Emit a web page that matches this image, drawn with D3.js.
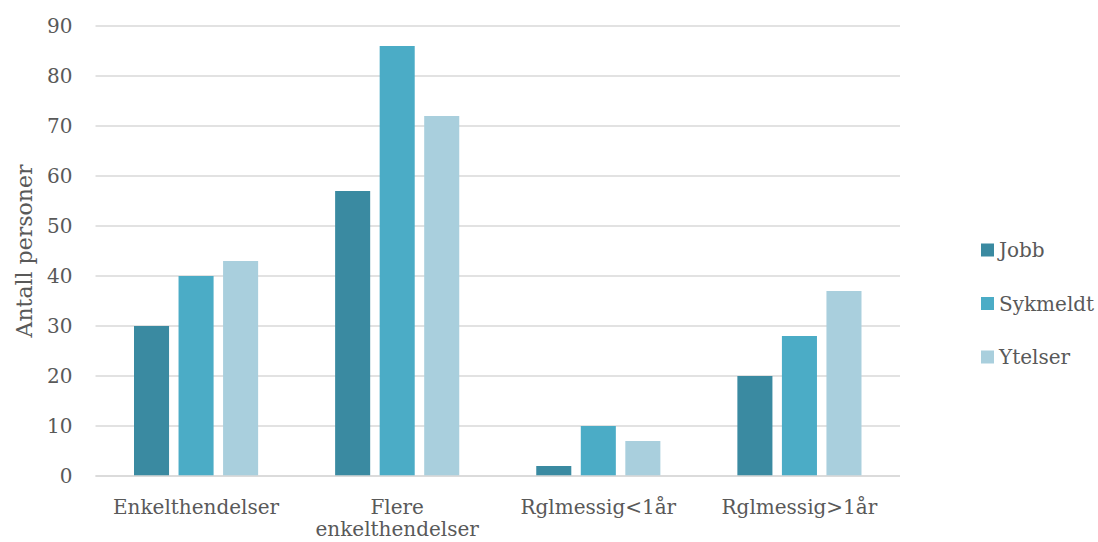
<!DOCTYPE html>
<html>
<head>
<meta charset="utf-8">
<script src="https://cdn.jsdelivr.net/npm/d3@7"></script>
<style>
  html, body { margin: 0; padding: 0; background: #fff; }
  svg text { font-family: "DejaVu Serif", serif; fill: #595959; }
</style>
</head>
<body>
<svg id="chart" width="1098" height="542"></svg>
<script>
const categories = ["Enkelthendelser", "Flere enkelthendelser", "Rglmessig<1år", "Rglmessig>1år"];
const categoryLines = [["Enkelthendelser"], ["Flere", "enkelthendelser"], ["Rglmessig<1år"], ["Rglmessig>1år"]];
const seriesNames = ["Jobb", "Sykmeldt", "Ytelser"];
const jobb = [30, 57, 2, 20];
const sykmeldt = [40, 86, 10, 28];
const ytelser = [43, 72, 7, 37];
const yTicks = [0, 10, 20, 30, 40, 50, 60, 70, 80, 90];
const colors = ["#3A8AA1", "#4BACC6", "#A9CFDD"];

const seriesValues = [jobb, sykmeldt, ytelser];

const svg = d3.select("#chart");
const plotLeft = 95.5, plotRight = 900, plotTop = 26, plotBottom = 476;
const fontSize = 20;

const x0 = d3.scaleBand().domain(categories).range([plotLeft, plotRight]).padding(0);
const x1 = d3.scaleBand().domain(seriesNames)
  .range([38.5, x0.bandwidth() - 38.5])
  .paddingInner(0.213).paddingOuter(0);
const y = d3.scaleLinear().domain([0, 90]).range([plotBottom, plotTop]);

// Horizontal gridlines
svg.append("g").selectAll("line").data(yTicks).join("line")
  .attr("x1", plotLeft).attr("x2", plotRight)
  .attr("y1", d => y(d)).attr("y2", d => y(d))
  .attr("stroke", "#D9D9D9").attr("stroke-width", 1.5);

// Y tick labels
const yAxis = d3.axisLeft(y).tickValues(yTicks).tickSize(0).tickPadding(0);
const yg = svg.append("g").attr("transform", `translate(${plotLeft - 23},0)`).call(yAxis);
yg.select(".domain").remove();
yg.selectAll("text").attr("font-size", fontSize).attr("font-family", "DejaVu Serif").attr("fill", "#595959");

// Y axis title
svg.append("text")
  .attr("transform", `translate(32,${(plotTop + plotBottom) / 2}) rotate(-90)`)
  .attr("text-anchor", "middle")
  .attr("font-size", 22)
  .text("Antall personer");

// Bars
const groups = svg.append("g").selectAll("g").data(categories).join("g")
  .attr("transform", d => `translate(${x0(d)},0)`);
groups.selectAll("rect")
  .data((c, i) => seriesNames.map((s, j) => ({ s, v: seriesValues[j][i], j })))
  .join("rect")
  .attr("x", d => x1(d.s))
  .attr("width", x1.bandwidth())
  .attr("y", d => y(d.v))
  .attr("height", d => y(0) - y(d.v))
  .attr("fill", d => colors[d.j]);

// Baseline
svg.append("line")
  .attr("x1", plotLeft).attr("x2", plotRight)
  .attr("y1", y(0)).attr("y2", y(0))
  .attr("stroke", "#D9D9D9").attr("stroke-width", 1.5);

// Category labels
const xl = svg.append("g").selectAll("text").data(categories).join("text")
  .attr("text-anchor", "middle")
  .attr("font-size", fontSize)
  .attr("x", d => x0(d) + x0.bandwidth() / 2)
  .attr("y", 514);
xl.selectAll("tspan").data((d, i) => categoryLines[i]).join("tspan")
  .attr("x", function () { return d3.select(this.parentNode).attr("x"); })
  .attr("dy", (d, i) => i === 0 ? 0 : 22)
  .text(d => d);

// Legend
const legend = svg.append("g").selectAll("g").data(seriesNames).join("g")
  .attr("transform", (d, i) => `translate(981,${250 + i * 53.5})`);
legend.append("rect")
  .attr("x", 0).attr("y", -6.5).attr("width", 13).attr("height", 13)
  .attr("fill", (d, i) => colors[i]);
legend.append("text")
  .attr("x", 18).attr("y", 0).attr("dy", "0.35em")
  .attr("font-size", fontSize)
  .text(d => d);
</script>
</body>
</html>
